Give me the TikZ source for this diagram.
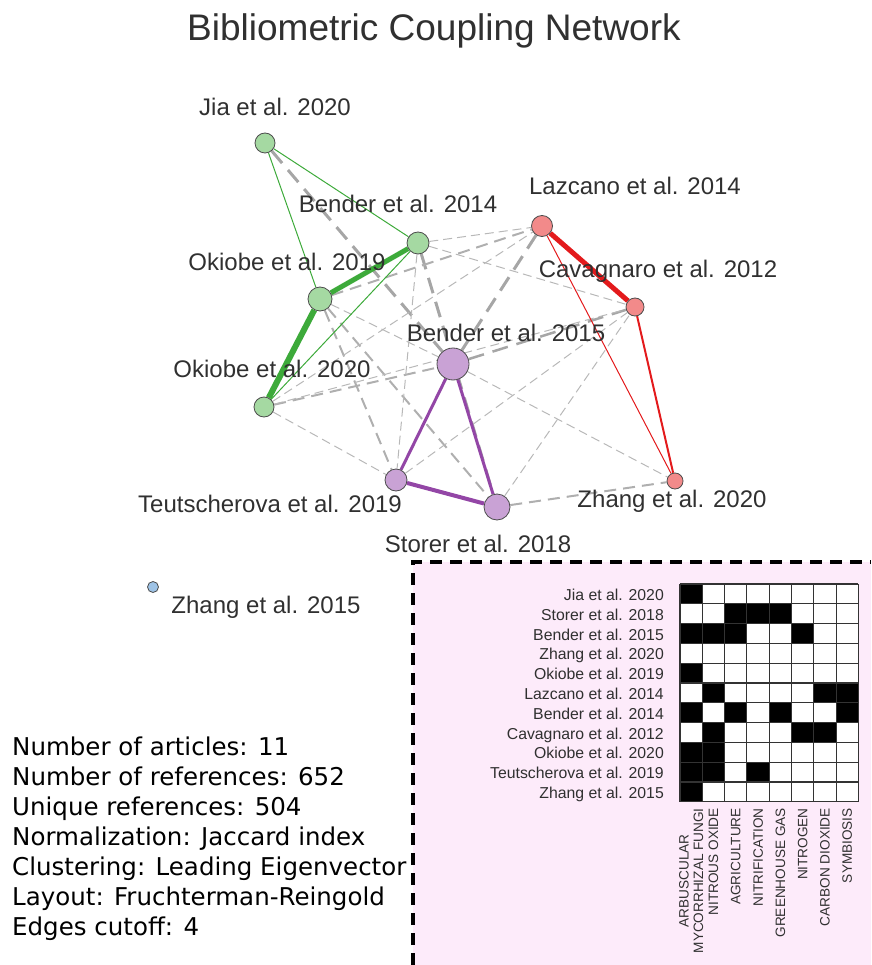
\documentclass[tikz,border=0pt]{standalone}
\usepackage{fontspec}
\setmainfont{Liberation Sans}
\newfontfamily\statsfont{DejaVu Sans}
\usetikzlibrary{backgrounds}
\definecolor{txtgray}{HTML}{303030}
\definecolor{grnfill}{HTML}{A5D9A2}
\definecolor{grnline}{HTML}{3DAA3A}
\definecolor{purfill}{HTML}{C9A2D5}
\definecolor{purline}{HTML}{9346A6}
\definecolor{redfill}{HTML}{F28A8A}
\definecolor{redline}{HTML}{E31A1C}
\definecolor{bluefill}{HTML}{9EC3E6}
\definecolor{linkgray}{HTML}{B8B8B8}
\definecolor{panelpink}{HTML}{FDEBFA}
\tikzstyle{paper} = [circle, draw=black!70, line width=0.8pt, inner sep=0pt]
\tikzstyle{grn} = [paper, fill=grnfill]
\tikzstyle{pur} = [paper, fill=purfill]
\tikzstyle{rd} = [paper, fill=redfill]
\tikzstyle{blu} = [paper, fill=bluefill]
\tikzstyle{lbl} = [anchor=base, inner sep=0pt, text=txtgray, font=\fontsize{24}{26}\selectfont]
\tikzstyle{thinlink} = [draw=linkgray, line width=1pt, dash pattern=on 9pt off 5pt]
\tikzstyle{midlink} = [draw=linkgray!95!black, line width=2pt, dash pattern=on 12pt off 7pt]
\tikzstyle{thicklink} = [draw=linkgray!90!black, line width=3pt, dash pattern=on 16pt off 9pt]
\tikzstyle{rowlabel} = [anchor=base east, inner sep=0pt, text=txtgray, font=\fontsize{15.8}{17}\selectfont]
\tikzstyle{kwlabel} = [rotate=90, anchor=east, inner sep=0pt, align=center, text=txtgray, font=\fontsize{13.6}{14.5}\selectfont]
\tikzstyle{statline} = [anchor=base west, inner sep=0pt, font=\statsfont\fontsize{24.5}{26}\selectfont]
\tikzstyle{gridline} = [draw=black!80, line width=1.1pt]

\begin{document}
\begin{tikzpicture}[x=1pt, y=-1pt]
  \useasboundingbox (0,0) rectangle (871,965);

  \node[lbl, font=\fontsize{37}{40}\selectfont] (title) at (434,41) {Bibliometric Coupling Network};

  % articles
  \node (jia) [grn, minimum size=20pt] at (265,143) {};
  \node (bender14) [grn, minimum size=22pt] at (418,243) {};
  \node (okiobe19) [grn, minimum size=24pt] at (320,299) {};
  \node (okiobe20) [grn, minimum size=20pt] at (264,407) {};
  \node (bender15) [pur, minimum size=32pt] at (453,364) {};
  \node (teutscherova) [pur, minimum size=22pt] at (396,480) {};
  \node (storer) [pur, minimum size=26pt] at (497,507) {};
  \node (lazcano) [rd, minimum size=21pt] at (542,226) {};
  \node (cavagnaro) [rd, minimum size=18pt] at (635,307) {};
  \node (zhang20) [rd, minimum size=16pt] at (675,481) {};
  \node (zhang15) [blu, minimum size=11pt] at (153,587) {};

  \node[lbl] (jia-lbl) at (275,116) {Jia et al. 2020};
  \node[lbl] (bender14-lbl) at (398,213) {Bender et al. 2014};
  \node[lbl] (okiobe19-lbl) at (287,270) {Okiobe et al. 2019};
  \node[lbl] (okiobe20-lbl) at (272,377) {Okiobe et al. 2020};
  \node[lbl] (bender15-lbl) at (506,341) {Bender et al. 2015};
  \node[lbl] (lazcano-lbl) at (635,195) {Lazcano et al. 2014};
  \node[lbl] (cavagnaro-lbl) at (658,277) {Cavagnaro et al. 2012};
  \node[lbl] (zhang20-lbl) at (672,507) {Zhang et al. 2020};
  \node[lbl] (teutscherova-lbl) at (270,512) {Teutscherova et al. 2019};
  \node[lbl] (storer-lbl) at (478,552) {Storer et al. 2018};
  \node[lbl] (zhang15-lbl) at (266,613) {Zhang et al. 2015};

  \begin{scope}[on background layer]
    % links between clusters
    \draw [thicklink] (jia) -- (bender15);
    \draw [thicklink] (bender14) -- (storer);
    \draw [thicklink] (lazcano) -- (bender15);
    \draw [thicklink, line width=2.5pt] (bender15) -- (cavagnaro);
    \draw [midlink] (okiobe19) -- (lazcano);
    \draw [midlink] (okiobe20) -- (bender15);
    \draw [midlink] (okiobe19) -- (storer);
    \draw [midlink] (okiobe19) -- (teutscherova);
    \draw [midlink] (storer) -- (zhang20);
    \draw [thinlink] (bender14) -- (lazcano);
    \draw [thinlink] (bender14) -- (cavagnaro);
    \draw [thinlink] (bender14) -- (teutscherova);
    \draw [thinlink] (okiobe19) -- (bender15);
    \draw [thinlink] (okiobe20) -- (lazcano);
    \draw [thinlink] (okiobe20) -- (teutscherova);
    \draw [thinlink] (okiobe20) -- (cavagnaro);
    \draw [thinlink] (bender15) -- (zhang20);
    \draw [thinlink] (storer) -- (cavagnaro);
    \draw [thinlink] (teutscherova) -- (cavagnaro);
    % links within clusters
    \draw [grnline, line width=1pt] (jia) -- (bender14);
    \draw [grnline, line width=1pt] (jia) -- (okiobe19);
    \draw [grnline, line width=1pt] (bender14) -- (okiobe20);
    \draw [grnline, line width=5pt] (bender14) -- (okiobe19);
    \draw [grnline, line width=6pt] (okiobe19) -- (okiobe20);
    \draw [purline, line width=3pt] (bender15) -- (teutscherova);
    \draw [purline, line width=3pt] (bender15) -- (storer);
    \draw [purline, line width=4pt] (teutscherova) -- (storer);
    \draw [redline, line width=5pt] (lazcano) -- (cavagnaro);
    \draw [redline, line width=1pt] (lazcano) -- (zhang20);
    \draw [redline, line width=2pt] (cavagnaro) -- (zhang20);
  \end{scope}

  % keyword panel
  \fill[panelpink] (413,562) rectangle (871,965);
  \draw[line width=4pt, dash pattern=on 12pt off 8pt] (413,965) -- (413,562) -- (871,562);
  \fill[white] (680,584) rectangle (858.4,801.8);
  \foreach \c/\r in {0/0, 2/1, 3/1, 4/1, 0/2, 1/2, 2/2, 5/2, 0/4, 1/5, 6/5, 7/5, 0/6, 2/6, 4/6, 7/6, 1/7, 5/7, 6/7, 0/8, 1/8, 0/9, 1/9, 3/9, 0/10}
    \fill ({680+\c*22.3},{584+\r*19.8}) rectangle ++(22.3,19.8);
  \foreach \c in {0,...,8}
    \draw[gridline] ({680+\c*22.3},584) -- ({680+\c*22.3},801.8);
  \foreach \r in {0,...,11}
    \draw[gridline] (680,{584+\r*19.8}) -- (858.4,{584+\r*19.8});

  \foreach \name [count=\r from 0] in {Jia et al. 2020, Storer et al. 2018, Bender et al. 2015, Zhang et al. 2020, Okiobe et al. 2019, Lazcano et al. 2014, Bender et al. 2014, Cavagnaro et al. 2012, Okiobe et al. 2020, Teutscherova et al. 2019, Zhang et al. 2015}
    \node[rowlabel] (row\r) at (664,{600.5+\r*19.8}) {\name};
  \foreach \kw [count=\c from 0] in {{ARBUSCULAR\\MYCORRHIZAL FUNGI}, NITROUS OXIDE, AGRICULTURE, NITRIFICATION, GREENHOUSE GAS, NITROGEN, CARBON DIOXIDE, SYMBIOSIS}
    \node[kwlabel] (kw\c) at ({691.2+\c*22.3},808) {\kw};

  % summary
  \foreach \txt [count=\i from 0] in {Number of articles: 11, Number of references: 652, Unique references: 504, Normalization: Jaccard index, Clustering: Leading Eigenvector, Layout: Fruchterman-Reingold, Edges cutoff: 4}
    \node[statline] (stat\i) at (12,{755+\i*30}) {\txt};

\end{tikzpicture}
\end{document}
